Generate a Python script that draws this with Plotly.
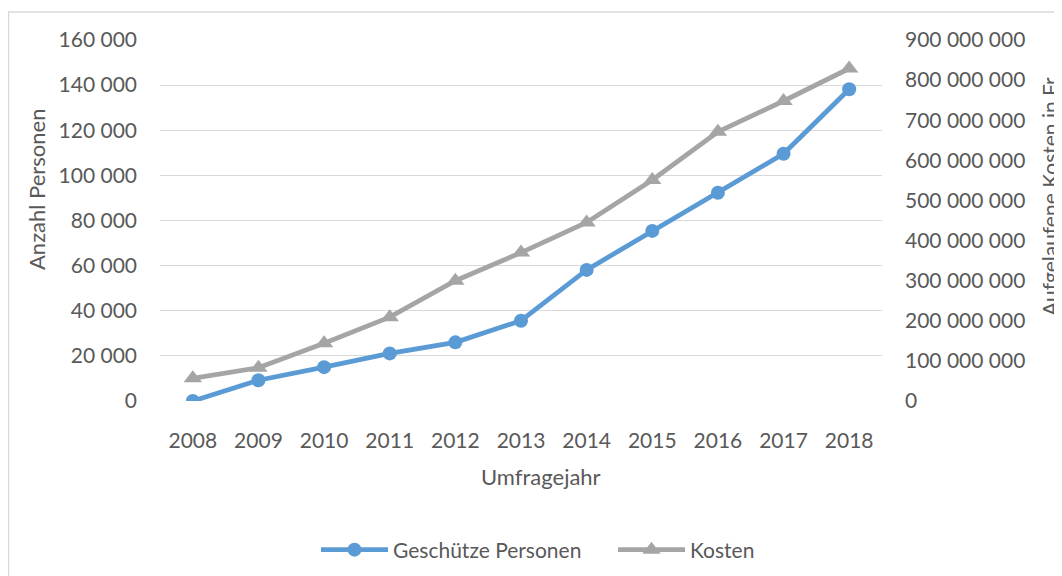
import plotly.graph_objects as go

years = ["2008", "2009", "2010", "2011", "2012", "2013", "2014", "2015", "2016", "2017", "2018"]
personen = [0, 9200, 15000, 21100, 26000, 35600, 58100, 75400, 92300, 109600, 138200]
kosten = [56.6e6, 83e6, 144e6, 209e6, 300e6, 370e6, 445e6, 551e6, 671e6, 748e6, 829e6]

FONT = "Lato"
TXT = "#595959"
GRID = "#d9d9d9"

# the page has an 8px body margin; work in page pixels and shift
OFF = 8
W, H = 1062 - OFF, 576 - OFF
L, R, T, B = 160 - OFF, 882 - OFF, 40 - OFF, 401 - OFF


def px(xp):
    return (xp - OFF - L) / (R - L)


def py(yp):
    return (B - (yp - OFF)) / (B - T)


fig = go.Figure()
fig.add_trace(go.Scatter(
    x=years, y=personen, name="Geschütze Personen", mode="lines+markers",
    line=dict(color="#5b9bd5", width=4.8),
    marker=dict(symbol="circle", size=14, color="#5b9bd5"),
    yaxis="y",
))
fig.add_trace(go.Scatter(
    x=years, y=kosten, name="Kosten", mode="lines+markers",
    line=dict(color="#a5a5a5", width=4.8),
    marker=dict(symbol="triangle-up", size=16, color="#a5a5a5"),
    yaxis="y2",
))

fig.update_layout(
    width=W, height=H,
    margin=dict(l=L, r=W - R, t=T, b=H - B, autoexpand=False),
    paper_bgcolor="white", plot_bgcolor="white",
    separators=". ",
    font=dict(family=FONT, color=TXT, size=21),
    xaxis=dict(
        type="category", range=[-0.5, 10.5], showgrid=False, automargin=False,
        showline=False, ticks="", ticklabelstandoff=25,
        tickfont=dict(family=FONT, size=21, color=TXT), zeroline=False,
    ),
    yaxis=dict(
        range=[0, 160000], dtick=20000, tickformat=",d", automargin=False,
        gridcolor=GRID, gridwidth=1.3, showline=False, ticks="", zeroline=False,
        ticklabelstandoff=22,
        tickfont=dict(family=FONT, size=21, color=TXT),
    ),
    yaxis2=dict(
        range=[0, 900e6], dtick=100e6, tickformat=",d", overlaying="y", side="right",
        showgrid=False, showline=False, ticks="", zeroline=False, automargin=False,
        ticklabelstandoff=22,
        tickfont=dict(family=FONT, size=21, color=TXT),
    ),
    showlegend=True,
    legend=dict(
        orientation="h", x=px(316), y=py(550), xanchor="left", yanchor="middle",
        font=dict(family=FONT, size=21, color=TXT), bgcolor="rgba(0,0,0,0)",
        itemwidth=67, tracegroupgap=0, entrywidth=215, entrywidthmode="pixels",
    ),
    annotations=[
        dict(text="Anzahl Personen", xref="paper", yref="paper", x=px(36), y=py(190),
             textangle=-90, showarrow=False, xanchor="center", yanchor="middle",
             font=dict(family=FONT, size=22, color=TXT)),
        dict(text="Umfragejahr", xref="paper", yref="paper", x=px(541), y=py(476),
             showarrow=False, xanchor="center", yanchor="middle",
             font=dict(family=FONT, size=22, color=TXT)),
        dict(text="Aufgelaufene Kosten in Fr.", xref="paper", yref="paper", x=px(1049), y=py(195),
             textangle=-90, showarrow=False, xanchor="center", yanchor="middle",
             font=dict(family=FONT, size=21, color=TXT)),
    ],
    shapes=[
        dict(type="rect", xref="paper", yref="paper",
             x0=px(8.6), x1=px(1075), y0=py(12), y1=py(590),
             line=dict(color=GRID, width=1.3), fillcolor="rgba(0,0,0,0)", layer="below"),
    ],
)

fig.write_html("out.html")
